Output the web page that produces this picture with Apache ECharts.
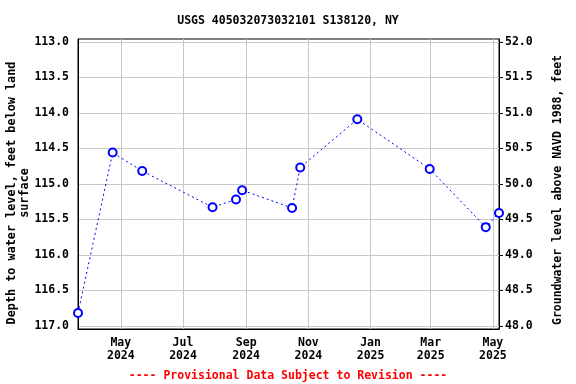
<!DOCTYPE html>
<html>
<head>
<meta charset="utf-8">
<script src="https://cdn.jsdelivr.net/npm/echarts@6/dist/echarts.min.js"></script>
<style>html,body{margin:0;padding:0;background:#fff}#c{width:576px;height:384px}</style>
</head>
<body>
<div id="c"></div>
<script>
// Data
const sampleDates = ['2024-03-20','2024-04-23','2024-05-22','2024-07-30','2024-08-22','2024-08-28','2024-10-16','2024-10-24','2024-12-19','2025-02-28','2025-04-24','2025-05-07'];
const depthValues = [116.82,114.56,114.82,115.33,115.22,115.09,115.34,114.77,114.09,114.79,115.61,115.41];
const xTickDates = ['2024-05-01','2024-07-01','2024-09-01','2024-11-01','2025-01-01','2025-03-01','2025-05-01'];
const xTickLabels = ['May\n2024','Jul\n2024','Sep\n2024','Nov\n2024','Jan\n2025','Mar\n2025','May\n2025'];
const leftTicks = [113.0,113.5,114.0,114.5,115.0,115.5,116.0,116.5,117.0];
const rightTicks = [48.0,48.5,49.0,49.5,50.0,50.5,51.0,51.5,52.0];
const datumOffset = 165; // elevation = 165 - depth

const ts = s => { const p = s.split('-').map(Number); return Date.UTC(p[0], p[1]-1, p[2]); };
const xTickVals = xTickDates.map(ts);
const labelMap = {};
xTickVals.forEach((v,i)=>{ labelMap[v] = xTickLabels[i]; });

const FONT = 'DejaVu Sans Mono';
const chart = echarts.init(document.getElementById('c'));
chart.setOption({
  animation: false,
  backgroundColor: '#fff',
  title: [
    {text: 'USGS 405032073032101 S138120, NY', left: 'center', top: 10,
     textStyle: {fontFamily: FONT, fontSize: 11.5, fontWeight: 'bold', color: '#000'}},
    {text: '---- Provisional Data Subject to Revision ----', left: 'center', top: 365,
     textStyle: {fontFamily: FONT, fontSize: 11.5, fontWeight: 'bold', color: '#ff0000'}}
  ],
  grid: {left: 78, right: 77, top: 39, bottom: 55, outerBoundsMode: 'none', containLabel: false,
         show: true, borderColor: '#000', borderWidth: 1, backgroundColor: 'transparent'},
  xAxis: {
    type: 'value',
    min: ts(sampleDates[0]),
    max: ts(sampleDates[sampleDates.length-1]),
    axisLine: {show: true, lineStyle: {color: '#000'}},
    axisTick: {show: false, customValues: xTickVals},
    splitLine: {show: true, lineStyle: {color: '#c8c8c8', width: 1}},
    axisLabel: {customValues: xTickVals, formatter: v => labelMap[v] || '', margin: 8,
      fontFamily: FONT, fontSize: 11.5, fontWeight: 'bold', color: '#000', lineHeight: 13}
  },
  yAxis: [
    {
      type: 'value', inverse: true, min: 112.96, max: 117.045, position: 'left',
      name: 'Depth to water level, feet below land\nsurface',
      nameLocation: 'middle', nameGap: 47, nameMoveOverlap: false,
      nameTextStyle: {fontFamily: FONT, fontSize: 11.8, fontWeight: 'bold', color: '#000', lineHeight: 13,
        padding: [0, 18, 0, 0]},
      axisLine: {show: true, lineStyle: {color: '#000'}},
      axisTick: {show: false, customValues: leftTicks},
      splitLine: {show: true, lineStyle: {color: '#c8c8c8', width: 1}},
      axisLabel: {customValues: leftTicks, formatter: v => v.toFixed(1), margin: 9,
        fontFamily: FONT, fontSize: 11.5, fontWeight: 'bold', color: '#000'}
    },
    {
      type: 'value', min: datumOffset - 117.045, max: datumOffset - 112.96, position: 'right',
      name: 'Groundwater level above NAVD 1988, feet',
      nameLocation: 'middle', nameGap: 53, nameRotate: 90, nameMoveOverlap: false,
      nameTextStyle: {fontFamily: FONT, fontSize: 11.5, fontWeight: 'bold', color: '#000',
        padding: [0, 12, 0, 0]},
      axisLine: {show: true, lineStyle: {color: '#000'}},
      axisTick: {show: true, inside: false, length: 4, customValues: rightTicks, lineStyle: {color: '#000'}},
      splitLine: {show: false},
      axisLabel: {customValues: rightTicks, formatter: v => v.toFixed(1), margin: 6,
        fontFamily: FONT, fontSize: 11.5, fontWeight: 'bold', color: '#000'}
    }
  ],
  series: [{
    type: 'line',
    yAxisIndex: 0,
    data: sampleDates.map((d,i)=>[ts(d), depthValues[i]]),
    symbol: 'emptyCircle', symbolSize: 8,
    lineStyle: {color: '#0000ff', width: 1, type: [2, 3]},
    itemStyle: {color: '#0000ff', borderColor: '#0000ff', borderWidth: 1.5},
    clip: false
  }]
});
</script>
</body>
</html>
